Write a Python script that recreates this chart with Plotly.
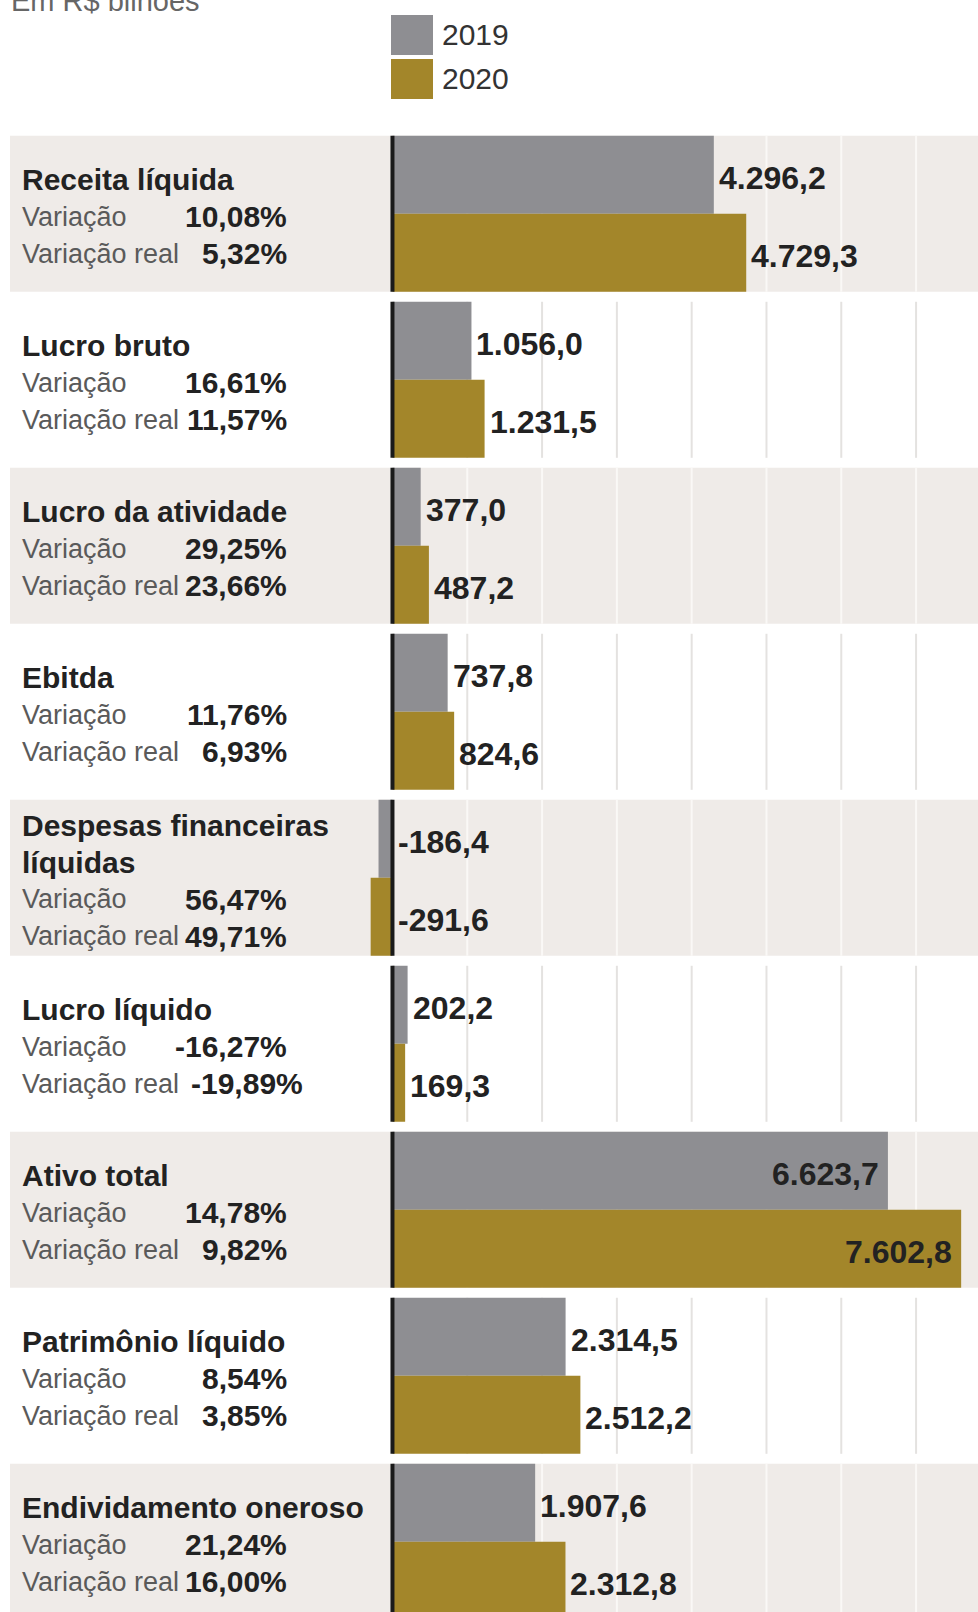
import plotly.graph_objects as go

# Dados (R$ bilhões)
categorias = ["Receita líquida", "Lucro bruto", "Lucro da atividade", "Ebitda",
              "Despesas financeiras\nlíquidas", "Lucro líquido", "Ativo total",
              "Patrimônio líquido", "Endividamento oneroso"]
valores_2019 = [4296.2, 1056.0, 377.0, 737.8, -186.4, 202.2, 6623.7, 2314.5, 1907.6]
valores_2020 = [4729.3, 1231.5, 487.2, 824.6, -291.6, 169.3, 7602.8, 2512.2, 2312.8]
variacao = ["10,08%", "16,61%", "29,25%", "11,76%", "56,47%", "-16,27%", "14,78%", "8,54%", "21,24%"]
variacao_real = ["5,32%", "11,57%", "23,66%", "6,93%", "49,71%", "-19,89%", "9,82%", "3,85%", "16,00%"]
rotulo_dentro = ["Ativo total"]
grade = [1000, 2000, 3000, 4000, 5000, 6000, 7000]

W, H = 978, 1612
TOP = 120
FONT = "Liberation Sans, Arial, sans-serif"
CINZA = "#8e8e92"
OURO = "#a3862a"
BEGE = "#efebe8"
ESCURO = "#222222"


def px_x(p):
    return p / W


def px_y(p):
    return 1 - (p - TOP) / (H - TOP)


def fmt(v):
    s = f"{v:,.1f}"
    return s.replace(",", "X").replace(".", ",").replace("X", ".")


idx = list(range(len(categorias)))
meia = 0.47

fig = go.Figure()
fig.add_trace(go.Bar(y=idx, x=valores_2019, orientation="h", name="2019",
                     marker=dict(color=CINZA, line=dict(width=0))))
fig.add_trace(go.Bar(y=idx, x=valores_2020, orientation="h", name="2020",
                     marker=dict(color=OURO, line=dict(width=0))))

shapes = []
ann = []

# fundos das linhas, grade e eixo zero
for i in idx:
    bege = i % 2 == 0
    if bege:
        shapes.append(dict(type="rect", xref="paper", yref="y", x0=px_x(10), x1=1,
                           y0=i - meia, y1=i + meia, fillcolor=BEGE, line_width=0,
                           layer="below"))
    for g in grade:
        shapes.append(dict(type="line", xref="x", yref="y", x0=g, x1=g,
                           y0=i - meia, y1=i + meia, layer="below",
                           line=dict(color="#faf8f6" if bege else "#e4e2e0", width=2)))
    shapes.append(dict(type="line", xref="x", yref="y", x0=0, x1=0,
                       y0=i - meia, y1=i + meia, layer="above",
                       line=dict(color="#1a1a1a", width=4)))

# rótulos de valores nas barras
for i, cat in enumerate(categorias):
    for v, off in ((valores_2019[i], -0.235), (valores_2020[i], 0.235)):
        if cat in rotulo_dentro:
            ann.append(dict(x=v, y=i + off, xref="x", yref="y", text=fmt(v),
                            showarrow=False, xanchor="right", xshift=-7, yshift=-3,
                            font=dict(family=FONT, size=32, color=ESCURO, weight="bold")))
        else:
            ann.append(dict(x=max(v, 0), y=i + off, xref="x", yref="y", text=fmt(v),
                            showarrow=False, xanchor="left", xshift=3 if v > 0 else 4,
                            yshift=-3,
                            font=dict(family=FONT, size=32, color=ESCURO, weight="bold")))

# bloco de texto à esquerda
for i, cat in enumerate(categorias):
    nome = cat.split("\n")
    linhas = [(t, None, 0) for t in nome] + [
        ("Variação", variacao[i], 0),
        ("Variação real", variacao_real[i], max(0, len(variacao_real[i]) - 6) * 16)]
    n = len(linhas)
    for k, (t, val, extra) in enumerate(linhas):
        off = 3 + (k - (n - 1) / 2) * 37
        if val is None:
            ann.append(dict(x=px_x(20), y=i, xref="paper", yref="y", text=t,
                            showarrow=False, xanchor="left", yanchor="middle",
                            yshift=-off,
                            font=dict(family=FONT, size=30, color=ESCURO, weight="bold")))
        else:
            ann.append(dict(x=px_x(20), y=i, xref="paper", yref="y", text=t,
                            showarrow=False, xanchor="left", yanchor="middle",
                            yshift=-off,
                            font=dict(family=FONT, size=27, color="#5a5a5a")))
            ann.append(dict(x=px_x(289 + extra), y=i, xref="paper", yref="y", text=val,
                            showarrow=False, xanchor="right", yanchor="middle",
                            yshift=-off,
                            font=dict(family=FONT, size=30, color=ESCURO, weight="bold")))

# título e legenda
ann.append(dict(x=px_x(9), y=px_y(1), xref="paper", yref="paper", text="Em R$ bilhões",
                showarrow=False, xanchor="left", yanchor="middle",
                font=dict(family=FONT, size=29, color="#666666")))
for nome, cor, y0, y1 in (("2019", CINZA, 15, 55), ("2020", OURO, 59, 99)):
    shapes.append(dict(type="rect", xref="paper", yref="paper", x0=px_x(391), x1=px_x(433),
                       y0=px_y(y1), y1=px_y(y0), fillcolor=cor, line_width=0))
    ann.append(dict(x=px_x(440), y=px_y((y0 + y1) / 2), xref="paper", yref="paper",
                    text=nome, showarrow=False, xanchor="left", yanchor="middle",
                    font=dict(family=FONT, size=30, color="#333333")))

fig.update_layout(
    width=W, height=H,
    margin=dict(l=0, r=0, t=TOP, b=0),
    paper_bgcolor="white", plot_bgcolor="white",
    barmode="group", bargap=0.06, bargroupgap=0,
    showlegend=False,
    xaxis=dict(range=[-5247, 7828], showgrid=False, zeroline=False,
               showticklabels=False, fixedrange=True),
    yaxis=dict(range=[8.423, -0.565], showgrid=False, zeroline=False,
               showticklabels=False, fixedrange=True),
    shapes=shapes,
    annotations=ann,
)

# sem margem do body, para a figura ocupar a janela inteira
fig.write_html("out.html", config={"displayModeBar": False},
               post_script="document.body.style.margin='0';")
